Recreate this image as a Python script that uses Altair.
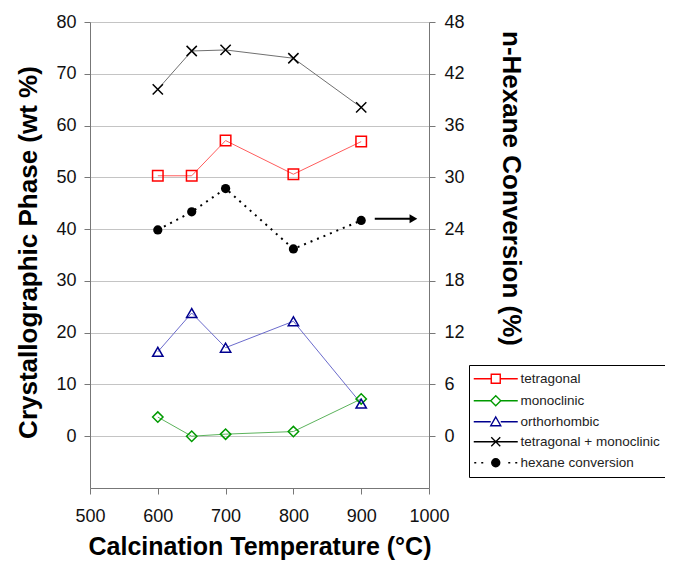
import altair as alt
import pandas as pd

# ---- data ----
temps = [600, 650, 700, 800, 900]
tetragonal = [50.3, 50.3, 57.1, 50.6, 56.9]
monoclinic = [3.7, 0.0, 0.4, 0.9, 7.2]
orthorhombic = [16.3, 23.8, 17.1, 22.2, 6.3]
tet_mono = [67.0, 74.4, 74.6, 73.0, 63.5]
hexane = [23.9, 26.0, 28.7, 21.7, 25.0]

series4 = ["tetragonal", "monoclinic", "orthorhombic", "tetragonal + monoclinic"]
series5 = series4 + ["hexane conversion"]

x_ticks = [500, 600, 700, 800, 900, 1000]
left_ticks = [0, 10, 20, 30, 40, 50, 60, 70, 80]
right_ticks = [0, 6, 12, 18, 24, 30, 36, 42, 48]

# arrow annotation pointing at the right axis (hexane scale)
arrow_x = [920, 975]
arrow_y = [25.2, 25.2]
arrow_head_x = [977]

# ---- styling ----
line_colors = ["#ff5c5c", "#5cb35c", "#6b6bcc", "#707070"]
marker_colors = ["#ff0000", "#009a00", "#00008f", "#000000"]
marker_shapes = ["square", "diamond", "triangle-up", "M-1,-1L1,1M-1,1L1,-1"]
marker_sizes = [110, 105, 140, 140]

legend_strokes = ["#ff0000", "#009a00", "#00008f", "#000000", "#000000"]
legend_fills = ["white", "white", "white", "white", "black"]
legend_paths = [
    "M-4.4,0H-0.9M0.9,0H4.4M-0.9,-0.9H0.9V0.9H-0.9Z",
    "M-4.4,0H-1M1,0H4.4M-1,0L0,-1L1,0L0,1Z",
    "M-4.4,0H-1M1,0H4.4M0,-0.95L1,0.8H-1Z",
    "M-4.4,0H4.4M-0.9,-0.9L0.9,0.9M-0.9,0.9L0.9,-0.9",
    "M-4.3,0H-3.9M-2.9,0H-2.5M2.5,0H2.9M3.9,0H4.3M-0.8,0A0.8,0.8,0,1,0,0.8,0A0.8,0.8,0,1,0,-0.8,0Z",
]

FONT = "Liberation Sans"

rows = []
for name, vals in zip(series4, [tetragonal, monoclinic, orthorhombic, tet_mono]):
    for t, v in zip(temps, vals):
        rows.append({"series": name, "temp": t, "value": v})
left_df = pd.DataFrame(rows)
hex_df = pd.DataFrame({"temp": temps, "conv": hexane})
arrow_df = pd.DataFrame({"temp": arrow_x, "conv": arrow_y})
head_df = pd.DataFrame({"temp": arrow_head_x, "conv": [arrow_y[0]]})

x_enc = alt.X(
    "temp:Q",
    scale=alt.Scale(domain=[500, 1000], nice=False, zero=False),
    axis=alt.Axis(
        values=x_ticks, format="d", title="Calcination Temperature (°C)", grid=False,
        labelFlush=False, labelOverlap=False, labelBound=False,
        labelFont=FONT, labelFontSize=18, labelColor="#111", labelPadding=13,
        tickSize=6, tickColor="#777", domainColor="#777",
        titleFont=FONT, titleFontSize=25, titleFontWeight="bold", titleColor="#000",
        titleX=169.5, titleY=66, titleBaseline="alphabetic",
    ),
)

y_left = alt.Y(
    "value:Q",
    scale=alt.Scale(domain=[-10, 80], nice=False, zero=False),
    axis=alt.Axis(
        values=left_ticks, title="Crystallographic Phase (wt %)", grid=True,
        gridColor="#c4c4c4", gridWidth=1.2,
        labelFont=FONT, labelFontSize=18, labelColor="#111", labelPadding=8,
        tickSize=6, tickColor="#777", domainColor="#777",
        titleFont=FONT, titleFontSize=26, titleFontWeight="bold", titleColor="#000",
        titleX=-54, titleY=230, titleBaseline="alphabetic", titleAngle=270,
    ),
)

y_right = alt.Y(
    "conv:Q",
    scale=alt.Scale(domain=[-6, 48], nice=False, zero=False),
    axis=alt.Axis(
        orient="right", values=right_ticks, title="n-Hexane Conversion (%)", grid=False,
        labelFont=FONT, labelFontSize=18, labelColor="#111", labelPadding=9,
        tickSize=6, tickColor="#777", domainColor="#777",
        titleFont=FONT, titleFontSize=26, titleFontWeight="bold", titleColor="#000",
        titleX=73, titleY=166, titleBaseline="alphabetic", titleAngle=90,
    ),
)

lines = alt.Chart(left_df).mark_line(strokeWidth=1).encode(
    x=x_enc, y=y_left,
    color=alt.Color("series:N", scale=alt.Scale(domain=series4, range=line_colors), legend=None),
)

points = alt.Chart(left_df).mark_point(filled=False, strokeWidth=1.5, opacity=1).encode(
    x=x_enc, y=y_left,
    color=alt.Color("series:N", scale=alt.Scale(domain=series4, range=marker_colors), legend=None),
    shape=alt.Shape("series:N", scale=alt.Scale(domain=series4, range=marker_shapes), legend=None),
    size=alt.Size("series:N", scale=alt.Scale(domain=series4, range=marker_sizes), legend=None),
)

legend = alt.Legend(
    title=None, orient="none", legendX=379, legendY=343, padding=7, rowPadding=5,
    strokeColor="#000", fillColor="white", cornerRadius=0,
    labelFont=FONT, labelFontSize=13.5, labelColor="#222",
    symbolSize=100, symbolStrokeWidth=1.4, symbolOffset=13, labelOffset=18,
    symbolOpacity=1,
)

dummy = alt.Chart(left_df).mark_point(filled=False, opacity=0).encode(
    x=x_enc, y=y_left,
    color=alt.Color("series:N", scale=alt.Scale(domain=series5, range=legend_strokes), legend=legend),
    shape=alt.Shape("series:N", scale=alt.Scale(domain=series5, range=legend_paths), legend=legend),
    fill=alt.Fill("series:N", scale=alt.Scale(domain=series5, range=legend_fills), legend=legend),
)

left = alt.layer(lines, points, dummy).resolve_scale(
    color="independent", shape="independent", fill="independent", size="independent"
)

hex_line = alt.Chart(hex_df).mark_line(strokeWidth=2, strokeDash=[2, 5], color="#000").encode(
    x=x_enc, y=y_right
)
hex_pts = alt.Chart(hex_df).mark_point(filled=True, shape="circle", size=85, color="#000", opacity=1).encode(
    x=x_enc, y=y_right
)
arrow_line = alt.Chart(arrow_df).mark_line(strokeWidth=2, color="#000").encode(x=x_enc, y=y_right)
arrow_head = alt.Chart(head_df).mark_point(
    filled=True, shape="triangle-right", size=80, color="#000", opacity=1
).encode(x=x_enc, y=y_right)

right = alt.layer(hex_line, hex_pts, arrow_line, arrow_head)

chart = alt.layer(left, right).resolve_scale(
    y="independent", color="independent", shape="independent", fill="independent", size="independent"
).properties(
    width=339, height=466,
    padding={"left": 82, "top": 14, "right": 236, "bottom": 72},
    autosize=alt.AutoSizeParams(type="none"),
).configure_view(stroke=None).configure(background="white")

chart.save("out.html", embed_options={"renderer": "svg", "actions": False})
